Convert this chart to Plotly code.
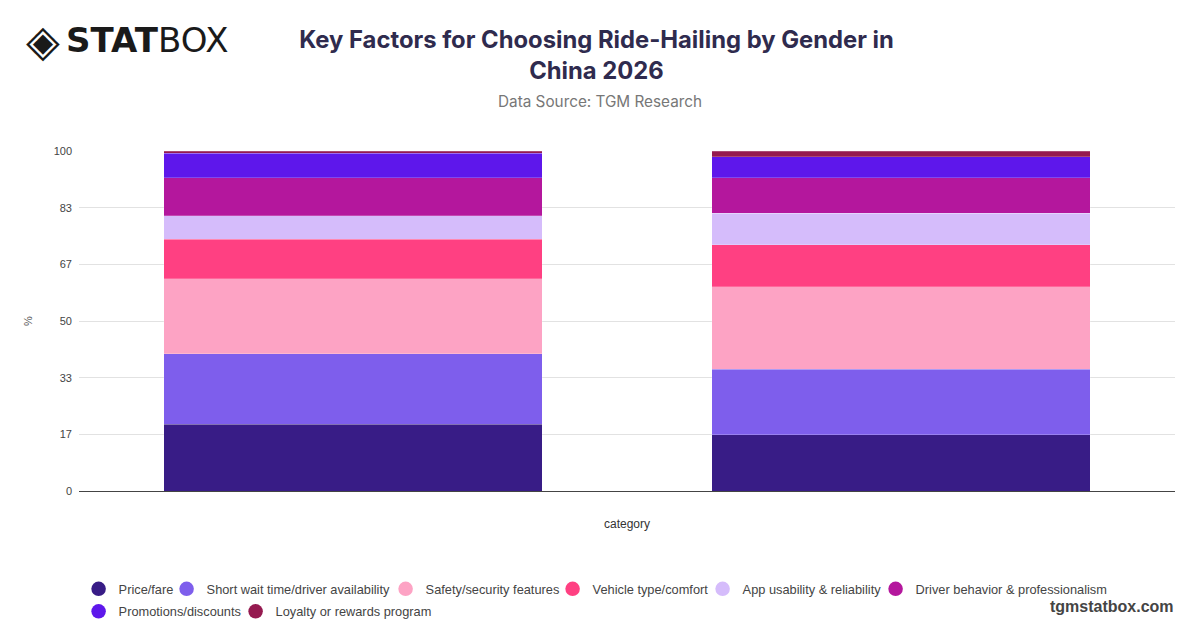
import plotly.graph_objects as go

# Shares (%) per factor, one value per gender bar
categories = ["Female", "Male"]
factors = [
    "Price/fare",
    "Short wait time/driver availability",
    "Safety/security features",
    "Vehicle type/comfort",
    "App usability & reliability",
    "Driver behavior & professionalism",
    "Promotions/discounts",
    "Loyalty or rewards program",
]
price_fare = [19.7, 16.5]
short_wait = [20.7, 19.3]
safety = [22.0, 24.3]
vehicle = [11.6, 12.3]
app_usability = [7.0, 9.3]
driver_behavior = [11.1, 10.4]
promotions = [7.2, 6.2]
loyalty = [0.7, 1.7]

series = [price_fare, short_wait, safety, vehicle, app_usability,
          driver_behavior, promotions, loyalty]
colors = ["#381c86", "#7e5eec", "#fda3c4", "#ff4082",
          "#d5bcfb", "#b4179d", "#5e17eb", "#951a50"]

y_ticks = [0, 100 / 6, 200 / 6, 50, 400 / 6, 500 / 6, 100]
y_tick_text = ["0", "17", "33", "50", "67", "83", "100"]

# page is shown with the browser's 8px body margin, so the figure is
# sized to fit inside the window and page pixels are offset by 8
OFF = 8
W, H = 1184, 612
M_L, M_R, M_T, M_B = 71, 17, 143, 129
PW, PH = W - M_L - M_R, H - M_T - M_B


def px_x(px):
    # page pixel -> paper x
    return (px - OFF - M_L) / PW


def px_y(py):
    # page pixel -> paper y
    return (H - M_B - (py - OFF)) / PH


def cx(px):
    # page pixel -> container x
    return (px - OFF) / W


def cy(py):
    # page pixel -> container y
    return 1 - (py - OFF) / H


# legend marker centres on the page (x, row centre y)
legend_pos = [(98, 589), (186, 589), (405, 589), (572, 589),
              (722, 589), (895, 589), (98, 611.5), (255, 611.5)]

fig = go.Figure()
legend_layout = {}

for i, (name, vals, col) in enumerate(zip(factors, series, colors)):
    fig.add_trace(go.Bar(
        x=categories, y=vals, name=name,
        marker=dict(color=col, line=dict(color="rgba(255,255,255,0.35)", width=0.6)),
        showlegend=False,
    ))
    lg = "legend" if i == 0 else f"legend{i + 1}"
    # circle markers for the legend, one legend box per entry
    fig.add_trace(go.Scatter(
        x=[None], y=[None], mode="markers", name=name,
        marker=dict(color=col, size=14.5, symbol="circle"),
        legend=lg,
        showlegend=True,
    ))
    mx, my = legend_pos[i]
    legend_layout[lg] = dict(
        orientation="h",
        xref="container", yref="container",
        x=cx(mx - 19.4), xanchor="left",
        y=cy(my - 15), yanchor="top",
        font=dict(size=12.8, color="#444"),
        itemwidth=30,
        bgcolor="rgba(0,0,0,0)",
    )

fig.update_layout(
    width=W,
    height=H,
    barmode="stack",
    bargap=0.31,
    paper_bgcolor="white",
    plot_bgcolor="white",
    margin=dict(l=M_L, r=M_R, t=M_T, b=M_B),
    font=dict(family="Liberation Sans, Arial, sans-serif", color="#444"),
    title=dict(
        text="<b>Key Factors for Choosing Ride-Hailing by Gender in<br>China 2026</b>",
        x=cx(596.5), xref="container", xanchor="center",
        y=cy(48), yanchor="top",
        font=dict(family="Inter, sans-serif", size=23.8, color="#2f2b4e"),
    ),
    xaxis=dict(
        showticklabels=False,
        showgrid=False,
        automargin=False,
        title=dict(text="category", font=dict(size=12, color="#333"), standoff=28),
        showline=True, linecolor="#444", linewidth=1.2,
        ticks="",
    ),
    yaxis=dict(
        range=[0, 100],
        automargin=False,
        tickvals=y_ticks,
        ticktext=y_tick_text,
        tickfont=dict(size=11, color="#444"),
        ticklabelstandoff=6,
        gridcolor="#e2e2e2",
        zeroline=False,
        ticks="",
    ),
    **legend_layout,
)

fig.add_annotation(
    text="%", textangle=-90,
    xref="paper", yref="paper", x=px_x(28), y=0.5,
    xanchor="center", yanchor="middle",
    showarrow=False,
    font=dict(size=11, color="#555"),
)

fig.add_annotation(
    text="Data Source: TGM Research",
    xref="paper", yref="paper", x=px_x(600), y=px_y(101),
    xanchor="center", yanchor="middle",
    showarrow=False,
    font=dict(family="Inter, sans-serif", size=15.3, color="#777"),
)

# logo
fig.add_annotation(
    text="◈",
    xref="paper", yref="paper", x=px_x(24), y=px_y(40),
    xanchor="left", yanchor="middle",
    showarrow=False,
    font=dict(family="DejaVu Sans, sans-serif", size=44, color="#1a1a1a"),
)
fig.add_annotation(
    text="<b>STAT</b>BOX",
    xref="paper", yref="paper", x=px_x(64), y=px_y(40),
    xanchor="left", yanchor="middle",
    showarrow=False,
    font=dict(family="DejaVu Sans, sans-serif", size=34, color="#1a1a1a"),
)

# watermark
fig.add_annotation(
    text="<b>tgmstatbox.com</b>",
    xref="paper", yref="paper", x=px_x(1176), y=px_y(606),
    xanchor="right", yanchor="middle",
    showarrow=False,
    font=dict(family="Liberation Sans, Arial, sans-serif", size=16, color="#444"),
)

fig.write_html("out.html")
